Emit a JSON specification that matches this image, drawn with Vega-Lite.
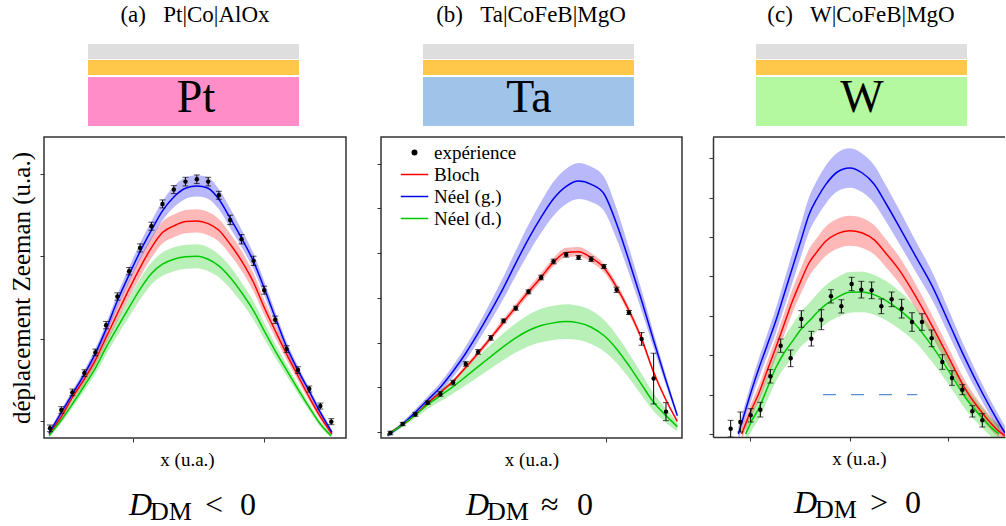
{
"$schema": "https://vega.github.io/schema/vega-lite/v6.json",
"padding": {"left": 8, "top": 0, "right": 0, "bottom": 0},
"background": "white",
"config": {
 "font": "Liberation Serif",
 "view": {"stroke": "#333", "strokeWidth": 1.5},
 "axis": {"labels": false, "grid": false, "domain": false, "tickSize": 4, "tickColor": "#333", "tickWidth": 1, "titleFont": "Liberation Serif", "titleFontWeight": "normal", "titleColor": "black", "titleFontSize": 19, "titlePadding": 8},
 "text": {"font": "Liberation Serif", "color": "black"},
 "legend": {"labelFont": "Liberation Serif"}
},
"datasets": {
 "a_curves": [
  {"s":"Bloch","x":15,"y":12,"e":7},{"s":"Bloch","x":52,"y":64,"e":9},{"s":"Bloch","x":85,"y":122,"e":11},{"s":"Bloch","x":121,"y":177,"e":14},{"s":"Bloch","x":154,"y":234,"e":16},{"s":"Bloch","x":186,"y":302,"e":19},{"s":"Bloch","x":220,"y":374,"e":23},{"s":"Bloch","x":255,"y":447,"e":26},{"s":"Bloch","x":288,"y":512,"e":29},{"s":"Bloch","x":322,"y":572,"e":31},{"s":"Bloch","x":355,"y":617,"e":33},{"s":"Bloch","x":389,"y":637,"e":34},{"s":"Bloch","x":424,"y":650,"e":35},{"s":"Bloch","x":458,"y":652,"e":35},{"s":"Bloch","x":492,"y":644,"e":35},{"s":"Bloch","x":524,"y":624,"e":34},{"s":"Bloch","x":558,"y":582,"e":32},{"s":"Bloch","x":592,"y":532,"e":30},{"s":"Bloch","x":628,"y":467,"e":27},{"s":"Bloch","x":660,"y":392,"e":23},{"s":"Bloch","x":693,"y":322,"e":20},{"s":"Bloch","x":727,"y":252,"e":17},{"s":"Bloch","x":761,"y":187,"e":14},{"s":"Bloch","x":795,"y":122,"e":11},{"s":"Bloch","x":828,"y":64,"e":9},{"s":"Bloch","x":863,"y":12,"e":7},
  {"s":"Néel (g.)","x":15,"y":14,"e":7},{"s":"Néel (g.)","x":52,"y":77,"e":9},{"s":"Néel (g.)","x":85,"y":132,"e":10},{"s":"Néel (g.)","x":121,"y":192,"e":13},{"s":"Néel (g.)","x":154,"y":254,"e":15},{"s":"Néel (g.)","x":186,"y":327,"e":17},{"s":"Néel (g.)","x":220,"y":412,"e":20},{"s":"Néel (g.)","x":255,"y":490,"e":23},{"s":"Néel (g.)","x":288,"y":560,"e":25},{"s":"Néel (g.)","x":322,"y":624,"e":27},{"s":"Néel (g.)","x":355,"y":682,"e":29},{"s":"Néel (g.)","x":389,"y":724,"e":31},{"s":"Néel (g.)","x":424,"y":750,"e":32},{"s":"Néel (g.)","x":458,"y":757,"e":32},{"s":"Néel (g.)","x":492,"y":750,"e":32},{"s":"Néel (g.)","x":524,"y":717,"e":30},{"s":"Néel (g.)","x":558,"y":660,"e":29},{"s":"Néel (g.)","x":592,"y":600,"e":26},{"s":"Néel (g.)","x":628,"y":530,"e":24},{"s":"Néel (g.)","x":660,"y":450,"e":21},{"s":"Néel (g.)","x":693,"y":362,"e":18},{"s":"Néel (g.)","x":727,"y":274,"e":15},{"s":"Néel (g.)","x":761,"y":204,"e":12},{"s":"Néel (g.)","x":795,"y":140,"e":10},{"s":"Néel (g.)","x":828,"y":77,"e":9},{"s":"Néel (g.)","x":863,"y":17,"e":7},
  {"s":"Néel (d.)","x":15,"y":7,"e":6},{"s":"Néel (d.)","x":52,"y":54,"e":9},{"s":"Néel (d.)","x":85,"y":102,"e":12},{"s":"Néel (d.)","x":121,"y":157,"e":15},{"s":"Néel (d.)","x":154,"y":210,"e":18},{"s":"Néel (d.)","x":186,"y":272,"e":21},{"s":"Néel (d.)","x":220,"y":332,"e":24},{"s":"Néel (d.)","x":255,"y":392,"e":28},{"s":"Néel (d.)","x":288,"y":447,"e":31},{"s":"Néel (d.)","x":322,"y":494,"e":33},{"s":"Néel (d.)","x":355,"y":522,"e":35},{"s":"Néel (d.)","x":389,"y":537,"e":36},{"s":"Néel (d.)","x":424,"y":544,"e":36},{"s":"Néel (d.)","x":458,"y":546,"e":36},{"s":"Néel (d.)","x":492,"y":537,"e":36},{"s":"Néel (d.)","x":524,"y":517,"e":34},{"s":"Néel (d.)","x":558,"y":482,"e":33},{"s":"Néel (d.)","x":592,"y":437,"e":30},{"s":"Néel (d.)","x":628,"y":382,"e":27},{"s":"Néel (d.)","x":660,"y":322,"e":24},{"s":"Néel (d.)","x":693,"y":262,"e":20},{"s":"Néel (d.)","x":727,"y":204,"e":17},{"s":"Néel (d.)","x":761,"y":147,"e":14},{"s":"Néel (d.)","x":795,"y":92,"e":11},{"s":"Néel (d.)","x":828,"y":42,"e":8},{"s":"Néel (d.)","x":860,"y":7,"e":6}
 ],
 "a_points": [
  {"x":18,"y":29,"e":10},{"x":52,"y":84,"e":10},{"x":85,"y":137,"e":10},{"x":121,"y":195,"e":10},{"x":154,"y":257,"e":10},{"x":186,"y":339,"e":11},{"x":220,"y":425,"e":11},{"x":255,"y":501,"e":11},{"x":288,"y":571,"e":12},{"x":322,"y":636,"e":12},{"x":355,"y":703,"e":12},{"x":389,"y":746,"e":12},{"x":424,"y":770,"e":13},{"x":458,"y":777,"e":13},{"x":492,"y":770,"e":13},{"x":524,"y":729,"e":12},{"x":558,"y":655,"e":14},{"x":592,"y":597,"e":14},{"x":628,"y":532,"e":14},{"x":660,"y":444,"e":12},{"x":693,"y":355,"e":11},{"x":727,"y":267,"e":10},{"x":761,"y":204,"e":10},{"x":795,"y":147,"e":9},{"x":828,"y":96,"e":9},{"x":861,"y":49,"e":9}
 ],
 "b_curves": [
  {"s":"Bloch","x":20,"y":12,"e":3},{"s":"Bloch","x":65,"y":40,"e":4},{"s":"Bloch","x":103,"y":70,"e":4},{"s":"Bloch","x":140,"y":104,"e":5},{"s":"Bloch","x":178,"y":137,"e":6},{"s":"Bloch","x":216,"y":170,"e":6},{"s":"Bloch","x":254,"y":212,"e":7},{"s":"Bloch","x":291,"y":254,"e":8},{"s":"Bloch","x":329,"y":300,"e":9},{"s":"Bloch","x":367,"y":347,"e":10},{"s":"Bloch","x":404,"y":392,"e":11},{"s":"Bloch","x":442,"y":438,"e":12},{"s":"Bloch","x":480,"y":482,"e":13},{"s":"Bloch","x":517,"y":527,"e":13},{"s":"Bloch","x":555,"y":556,"e":14},{"s":"Bloch","x":592,"y":558,"e":14},{"s":"Bloch","x":630,"y":540,"e":14},{"s":"Bloch","x":668,"y":510,"e":13},{"s":"Bloch","x":706,"y":452,"e":12},{"s":"Bloch","x":743,"y":382,"e":11},{"s":"Bloch","x":781,"y":297,"e":9},{"s":"Bloch","x":817,"y":197,"e":7},{"s":"Bloch","x":854,"y":114,"e":5},{"s":"Bloch","x":888,"y":50,"e":4},
  {"s":"Néel (g.)","x":20,"y":7,"e":4},{"s":"Néel (g.)","x":65,"y":42,"e":7},{"s":"Néel (g.)","x":103,"y":77,"e":9},{"s":"Néel (g.)","x":140,"y":114,"e":11},{"s":"Néel (g.)","x":178,"y":152,"e":14},{"s":"Néel (g.)","x":216,"y":200,"e":17},{"s":"Néel (g.)","x":254,"y":254,"e":21},{"s":"Néel (g.)","x":291,"y":314,"e":24},{"s":"Néel (g.)","x":329,"y":380,"e":29},{"s":"Néel (g.)","x":367,"y":450,"e":33},{"s":"Néel (g.)","x":404,"y":524,"e":38},{"s":"Néel (g.)","x":442,"y":597,"e":43},{"s":"Néel (g.)","x":480,"y":662,"e":47},{"s":"Néel (g.)","x":517,"y":717,"e":51},{"s":"Néel (g.)","x":555,"y":754,"e":53},{"s":"Néel (g.)","x":592,"y":770,"e":54},{"s":"Néel (g.)","x":630,"y":760,"e":53},{"s":"Néel (g.)","x":668,"y":732,"e":51},{"s":"Néel (g.)","x":706,"y":642,"e":46},{"s":"Néel (g.)","x":743,"y":532,"e":38},{"s":"Néel (g.)","x":781,"y":412,"e":31},{"s":"Néel (g.)","x":817,"y":292,"e":23},{"s":"Néel (g.)","x":854,"y":172,"e":15},{"s":"Néel (g.)","x":888,"y":67,"e":8},
  {"s":"Néel (d.)","x":20,"y":10,"e":4},{"s":"Néel (d.)","x":65,"y":40,"e":6},{"s":"Néel (d.)","x":103,"y":69,"e":9},{"s":"Néel (d.)","x":140,"y":100,"e":13},{"s":"Néel (d.)","x":178,"y":127,"e":17},{"s":"Néel (d.)","x":216,"y":154,"e":21},{"s":"Néel (d.)","x":254,"y":184,"e":26},{"s":"Néel (d.)","x":291,"y":214,"e":31},{"s":"Néel (d.)","x":329,"y":244,"e":36},{"s":"Néel (d.)","x":367,"y":274,"e":40},{"s":"Néel (d.)","x":404,"y":300,"e":44},{"s":"Néel (d.)","x":442,"y":322,"e":47},{"s":"Néel (d.)","x":480,"y":337,"e":50},{"s":"Néel (d.)","x":517,"y":345,"e":51},{"s":"Néel (d.)","x":555,"y":349,"e":52},{"s":"Néel (d.)","x":592,"y":345,"e":51},{"s":"Néel (d.)","x":630,"y":332,"e":50},{"s":"Néel (d.)","x":668,"y":307,"e":47},{"s":"Néel (d.)","x":706,"y":267,"e":42},{"s":"Néel (d.)","x":743,"y":217,"e":37},{"s":"Néel (d.)","x":781,"y":160,"e":32},{"s":"Néel (d.)","x":817,"y":107,"e":27},{"s":"Néel (d.)","x":854,"y":67,"e":21},{"s":"Néel (d.)","x":888,"y":34,"e":14}
 ],
 "b_points": [
  {"x":28,"y":15,"e":5},{"x":65,"y":42,"e":5},{"x":103,"y":71,"e":6},{"x":140,"y":106,"e":5},{"x":178,"y":132,"e":7},{"x":216,"y":166,"e":7},{"x":254,"y":222,"e":7},{"x":291,"y":258,"e":7},{"x":329,"y":300,"e":7},{"x":367,"y":351,"e":6},{"x":404,"y":389,"e":6},{"x":442,"y":438,"e":6},{"x":480,"y":481,"e":7},{"x":517,"y":529,"e":7},{"x":555,"y":549,"e":7},{"x":592,"y":541,"e":6},{"x":630,"y":536,"e":7},{"x":668,"y":514,"e":6},{"x":706,"y":444,"e":8},{"x":743,"y":376,"e":6},{"x":781,"y":297,"e":19},{"x":817,"y":178,"e":76},{"x":854,"y":79,"e":27}
 ],
 "c_curves": [
  {"s":"Néel (g.)","x":76,"y":9,"e":20},{"s":"Néel (g.)","x":98,"y":82,"e":24},{"s":"Néel (g.)","x":118,"y":147,"e":27},{"s":"Néel (g.)","x":138,"y":207,"e":30},{"s":"Néel (g.)","x":163,"y":277,"e":33},{"s":"Néel (g.)","x":188,"y":347,"e":37},{"s":"Néel (g.)","x":213,"y":427,"e":41},{"s":"Néel (g.)","x":238,"y":507,"e":45},{"s":"Néel (g.)","x":263,"y":587,"e":48},{"s":"Néel (g.)","x":288,"y":667,"e":52},{"s":"Néel (g.)","x":313,"y":717,"e":55},{"s":"Néel (g.)","x":338,"y":757,"e":57},{"s":"Néel (g.)","x":373,"y":795,"e":58},{"s":"Néel (g.)","x":410,"y":807,"e":59},{"s":"Néel (g.)","x":448,"y":792,"e":58},{"s":"Néel (g.)","x":483,"y":759,"e":57},{"s":"Néel (g.)","x":518,"y":702,"e":54},{"s":"Néel (g.)","x":558,"y":632,"e":51},{"s":"Néel (g.)","x":608,"y":542,"e":46},{"s":"Néel (g.)","x":658,"y":452,"e":42},{"s":"Néel (g.)","x":708,"y":342,"e":37},{"s":"Néel (g.)","x":758,"y":232,"e":31},{"s":"Néel (g.)","x":808,"y":132,"e":26},{"s":"Néel (g.)","x":858,"y":42,"e":22},{"s":"Néel (g.)","x":876,"y":12,"e":21},
  {"s":"Bloch","x":86,"y":9,"e":18},{"s":"Bloch","x":113,"y":77,"e":21},{"s":"Bloch","x":138,"y":132,"e":24},{"s":"Bloch","x":163,"y":200,"e":27},{"s":"Bloch","x":188,"y":267,"e":30},{"s":"Bloch","x":213,"y":337,"e":33},{"s":"Bloch","x":238,"y":407,"e":36},{"s":"Bloch","x":263,"y":467,"e":38},{"s":"Bloch","x":288,"y":522,"e":41},{"s":"Bloch","x":313,"y":557,"e":42},{"s":"Bloch","x":338,"y":587,"e":44},{"s":"Bloch","x":373,"y":610,"e":45},{"s":"Bloch","x":410,"y":619,"e":45},{"s":"Bloch","x":448,"y":612,"e":45},{"s":"Bloch","x":483,"y":592,"e":44},{"s":"Bloch","x":518,"y":552,"e":42},{"s":"Bloch","x":558,"y":502,"e":40},{"s":"Bloch","x":608,"y":422,"e":36},{"s":"Bloch","x":658,"y":332,"e":32},{"s":"Bloch","x":708,"y":237,"e":28},{"s":"Bloch","x":758,"y":142,"e":24},{"s":"Bloch","x":808,"y":72,"e":21},{"s":"Bloch","x":858,"y":17,"e":19},{"s":"Bloch","x":876,"y":4,"e":18},
  {"s":"Néel (d.)","x":98,"y":9,"e":26},{"s":"Néel (d.)","x":118,"y":52,"e":29},{"s":"Néel (d.)","x":138,"y":87,"e":32},{"s":"Néel (d.)","x":163,"y":147,"e":37},{"s":"Néel (d.)","x":188,"y":207,"e":42},{"s":"Néel (d.)","x":213,"y":252,"e":46},{"s":"Néel (d.)","x":238,"y":287,"e":49},{"s":"Néel (d.)","x":263,"y":322,"e":52},{"s":"Néel (d.)","x":288,"y":347,"e":54},{"s":"Néel (d.)","x":313,"y":374,"e":56},{"s":"Néel (d.)","x":338,"y":397,"e":58},{"s":"Néel (d.)","x":373,"y":419,"e":60},{"s":"Néel (d.)","x":410,"y":434,"e":61},{"s":"Néel (d.)","x":448,"y":435,"e":61},{"s":"Néel (d.)","x":483,"y":427,"e":60},{"s":"Néel (d.)","x":518,"y":410,"e":59},{"s":"Néel (d.)","x":558,"y":382,"e":57},{"s":"Néel (d.)","x":608,"y":337,"e":53},{"s":"Néel (d.)","x":658,"y":272,"e":48},{"s":"Néel (d.)","x":708,"y":197,"e":41},{"s":"Néel (d.)","x":758,"y":117,"e":35},{"s":"Néel (d.)","x":808,"y":57,"e":30},{"s":"Néel (d.)","x":838,"y":25,"e":27},{"s":"Néel (d.)","x":858,"y":9,"e":26}
 ],
 "c_points": [
  {"x":53,"y":25,"e":25},{"x":82,"y":45,"e":30},{"x":113,"y":65,"e":20},{"x":142,"y":82,"e":22},{"x":172,"y":182,"e":20},{"x":203,"y":274,"e":20},{"x":233,"y":236,"e":25},{"x":265,"y":354,"e":25},{"x":295,"y":295,"e":22},{"x":325,"y":352,"e":30},{"x":354,"y":422,"e":20},{"x":385,"y":392,"e":20},{"x":416,"y":459,"e":20},{"x":445,"y":442,"e":25},{"x":476,"y":440,"e":25},{"x":505,"y":392,"e":22},{"x":536,"y":413,"e":22},{"x":566,"y":385,"e":28},{"x":597,"y":345,"e":28},{"x":627,"y":345,"e":25},{"x":656,"y":296,"e":25},{"x":688,"y":225,"e":22},{"x":717,"y":177,"e":22},{"x":748,"y":142,"e":15},{"x":778,"y":77,"e":17},{"x":808,"y":50,"e":20}
 ],
 "c_ref": [{"from":330,"to":613,"level":127}]
},
"spacing": 28,
"resolve": {"scale": {"x": "independent", "y": "independent", "color": "independent", "fill": "independent"}, "legend": {"color": "independent", "fill": "independent"}},
"hconcat": [
 {
  "spacing": 6,
  "resolve": {"scale": {"x": "independent", "y": "independent", "color": "independent", "fill": "independent"}, "legend": {"color": "independent", "fill": "independent"}},
  "vconcat": [
   {
    "width": 302, "height": 130, "view": {"stroke": null},
    "layer": [
     {"data": {"values": [{"layer":"AlOx","bottom":71,"top":86},{"layer":"Co","bottom":55,"top":70},{"layer":"Pt","bottom":4,"top":53}]},
      "mark": "rect",
      "encoding": {
       "x": {"datum": 44, "type": "quantitative", "scale": {"domain": [0,302], "nice": false}, "axis": null},
       "x2": {"datum": 255},
       "y": {"field": "bottom", "type": "quantitative", "scale": {"domain": [0,130], "nice": false}, "axis": null},
       "y2": {"field": "top"},
       "fill": {"field": "layer", "type": "nominal", "scale": {"domain": ["AlOx","Co","Pt"], "range": ["#dedede","#ffc84a","#ff8dc8"]}, "legend": null}
      }},
     {"data": {"values": [{}]}, "mark": {"type": "text", "font": "Liberation Serif", "fontSize": 23, "baseline": "alphabetic"},
      "encoding": {"x": {"datum": 151, "type": "quantitative", "axis": null}, "y": {"datum": 108, "type": "quantitative", "axis": null}, "text": {"value": "(a)\u00a0\u00a0\u00a0Pt|Co|AlOx"}}},
     {"data": {"values": [{}]}, "mark": {"type": "text", "font": "Liberation Serif", "fontSize": 46, "baseline": "alphabetic"},
      "encoding": {"x": {"datum": 152, "type": "quantitative", "axis": null}, "y": {"datum": 18, "type": "quantitative", "axis": null}, "text": {"value": "Pt"}}}
    ]
   },
   {
    "width": 302, "height": 301,
    "layer": [
     {"data": {"name": "a_curves"}, "mark": {"type": "errorband", "interpolate": "monotone", "clip": true, "opacity": 0.28},
      "encoding": {
       "x": {"field": "x", "type": "quantitative", "title": "x (u.a.)", "scale": {"domain": [0,905], "nice": false}, "axis": {"values": [268,660], "title": "x (u.a.)", "titleX": 143}},
       "y": {"field": "y", "type": "quantitative", "title": "déplacement Zeeman (u.a.)", "scale": {"domain": [0,904], "nice": false}, "axis": {"values": [52,296,546,792], "title": "déplacement Zeeman (u.a.)", "titleFontSize": 25, "titlePadding": 5}},
       "yError": {"field": "e"},
       "color": {"field": "s", "type": "nominal", "scale": {"domain": ["expérience","Bloch","Néel (g.)","Néel (d.)"], "range": ["black","#ff0000","#0000ee","#00c800"]}, "legend": null}
      }},
     {"data": {"name": "a_curves"}, "mark": {"type": "line", "interpolate": "monotone", "clip": true, "strokeWidth": 1.5},
      "encoding": {"x": {"field": "x", "type": "quantitative", "title": "x (u.a.)"}, "y": {"field": "y", "type": "quantitative", "title": "déplacement Zeeman (u.a.)"}, "color": {"field": "s", "type": "nominal", "legend": null}}},
     {"data": {"name": "a_points"}, "mark": {"type": "errorbar", "ticks": {"size": 6}, "color": "black"},
      "encoding": {"x": {"field": "x", "type": "quantitative", "title": "x (u.a.)"}, "y": {"field": "y", "type": "quantitative", "title": "déplacement Zeeman (u.a.)"}, "yError": {"field": "e"}}},
     {"data": {"name": "a_points"}, "mark": {"type": "point", "filled": true, "size": 20, "color": "black", "opacity": 1},
      "encoding": {"x": {"field": "x", "type": "quantitative", "title": "x (u.a.)"}, "y": {"field": "y", "type": "quantitative", "title": "déplacement Zeeman (u.a.)"}}}
    ]
   },
   {
    "width": 302, "height": 50, "view": {"stroke": null},
    "data": {"values": [{}]},
    "layer": [
     {"mark": {"type": "text", "font": "Liberation Serif", "align": "left", "baseline": "alphabetic", "fontSize": 32, "fontStyle": "italic"},
      "encoding": {"x": {"datum": 85, "type": "quantitative", "scale": {"domain": [0,302], "nice": false}, "axis": null}, "y": {"datum": 12, "type": "quantitative", "scale": {"domain": [0,50], "nice": false}, "axis": null}, "text": {"value": "D"}}},
     {"mark": {"type": "text", "font": "Liberation Serif", "align": "left", "baseline": "alphabetic", "fontSize": 26},
      "encoding": {"x": {"datum": 106, "type": "quantitative", "axis": null}, "y": {"datum": 7, "type": "quantitative", "axis": null}, "text": {"value": "DM"}}},
     {"mark": {"type": "text", "font": "Liberation Serif", "align": "left", "baseline": "alphabetic", "fontSize": 32},
      "encoding": {"x": {"datum": 161, "type": "quantitative", "axis": null}, "y": {"datum": 12, "type": "quantitative", "axis": null}, "text": {"value": "<"}}},
     {"mark": {"type": "text", "font": "Liberation Serif", "align": "left", "baseline": "alphabetic", "fontSize": 32},
      "encoding": {"x": {"datum": 196, "type": "quantitative", "axis": null}, "y": {"datum": 12, "type": "quantitative", "axis": null}, "text": {"value": "0"}}}
    ]
   }
  ]
 },
 {
  "spacing": 25,
  "resolve": {"scale": {"x": "independent", "y": "independent", "color": "independent", "fill": "independent"}, "legend": {"color": "independent", "fill": "independent"}},
  "hconcat": [
 {
  "spacing": 6,
  "resolve": {"scale": {"x": "independent", "y": "independent", "color": "independent", "fill": "independent"}, "legend": {"color": "independent", "fill": "independent"}},
  "vconcat": [
   {
    "width": 301, "height": 130, "view": {"stroke": null},
    "layer": [
     {"data": {"values": [{"layer":"MgO","bottom":71,"top":86},{"layer":"CoFeB","bottom":55,"top":70},{"layer":"Ta","bottom":4,"top":53}]},
      "mark": "rect",
      "encoding": {
       "x": {"datum": 42, "type": "quantitative", "scale": {"domain": [0,301], "nice": false}, "axis": null},
       "x2": {"datum": 253},
       "y": {"field": "bottom", "type": "quantitative", "scale": {"domain": [0,130], "nice": false}, "axis": null},
       "y2": {"field": "top"},
       "fill": {"field": "layer", "type": "nominal", "scale": {"domain": ["MgO","CoFeB","Ta"], "range": ["#dedede","#ffc84a","#a0c3ea"]}, "legend": null}
      }},
     {"data": {"values": [{}]}, "mark": {"type": "text", "font": "Liberation Serif", "fontSize": 23, "baseline": "alphabetic"},
      "encoding": {"x": {"datum": 150, "type": "quantitative", "axis": null}, "y": {"datum": 108, "type": "quantitative", "axis": null}, "text": {"value": "(b)\u00a0\u00a0\u00a0Ta|CoFeB|MgO"}}},
     {"data": {"values": [{}]}, "mark": {"type": "text", "font": "Liberation Serif", "fontSize": 46, "baseline": "alphabetic"},
      "encoding": {"x": {"datum": 148, "type": "quantitative", "axis": null}, "y": {"datum": 18, "type": "quantitative", "axis": null}, "text": {"value": "Ta"}}}
    ]
   },
   {
    "width": 301, "height": 301,
    "layer": [
     {"data": {"name": "b_curves"}, "mark": {"type": "errorband", "interpolate": "monotone", "clip": true, "opacity": 0.28},
      "encoding": {
       "x": {"field": "x", "type": "quantitative", "title": "x (u.a.)", "scale": {"domain": [0,902], "nice": false}, "axis": {"values": [675], "title": "x (u.a.)"}},
       "y": {"field": "y", "type": "quantitative", "title": null, "scale": {"domain": [0,902], "nice": false}, "axis": {"values": [19,154,285,419,554,689,822], "title": null}},
       "yError": {"field": "e"},
       "color": {"field": "s", "type": "nominal", "scale": {"domain": ["expérience","Bloch","Néel (g.)","Néel (d.)"], "range": ["black","#ff0000","#0000ee","#00c800"]}}
      }},
     {"data": {"name": "b_curves"}, "mark": {"type": "line", "interpolate": "monotone", "clip": true, "strokeWidth": 1.5},
      "encoding": {"x": {"field": "x", "type": "quantitative", "title": "x (u.a.)"}, "y": {"field": "y", "type": "quantitative", "title": null},
       "color": {"field": "s", "type": "nominal", "legend": {"orient": "none", "legendX": 24, "legendY": 6, "title": null, "labelFont": "Liberation Serif", "labelFontSize": 19, "labelColor": "black", "labelOffset": 10, "symbolSize": 121, "symbolStrokeWidth": 1.5, "symbolType": "M-2.5,0H2.5", "rowPadding": 2, "padding": 0,
        "encode": {"symbols": {"update": {"shape": {"signal": "datum.value === 'expérience' ? 'circle' : 'M-2.5,0H2.5'"}, "size": {"signal": "datum.value === 'expérience' ? 20 : 121"}, "fill": {"signal": "datum.value === 'expérience' ? 'black' : 'transparent'"}, "opacity": {"value": 1}}}}}}}},
     {"data": {"name": "b_points"}, "mark": {"type": "errorbar", "ticks": {"size": 6}, "color": "black"},
      "encoding": {"x": {"field": "x", "type": "quantitative", "title": "x (u.a.)"}, "y": {"field": "y", "type": "quantitative", "title": null}, "yError": {"field": "e"}}},
     {"data": {"name": "b_points"}, "mark": {"type": "point", "filled": true, "size": 20, "opacity": 1},
      "encoding": {"x": {"field": "x", "type": "quantitative", "title": "x (u.a.)"}, "y": {"field": "y", "type": "quantitative", "title": null}, "color": {"datum": "expérience"}}}
    ]
   },
   {
    "width": 301, "height": 50, "view": {"stroke": null},
    "data": {"values": [{}]},
    "layer": [
     {"mark": {"type": "text", "font": "Liberation Serif", "align": "left", "baseline": "alphabetic", "fontSize": 32, "fontStyle": "italic"},
      "encoding": {"x": {"datum": 85, "type": "quantitative", "scale": {"domain": [0,301], "nice": false}, "axis": null}, "y": {"datum": 12, "type": "quantitative", "scale": {"domain": [0,50], "nice": false}, "axis": null}, "text": {"value": "D"}}},
     {"mark": {"type": "text", "font": "Liberation Serif", "align": "left", "baseline": "alphabetic", "fontSize": 26},
      "encoding": {"x": {"datum": 106, "type": "quantitative", "axis": null}, "y": {"datum": 7, "type": "quantitative", "axis": null}, "text": {"value": "DM"}}},
     {"mark": {"type": "text", "font": "Liberation Serif", "align": "left", "baseline": "alphabetic", "fontSize": 32},
      "encoding": {"x": {"datum": 160, "type": "quantitative", "axis": null}, "y": {"datum": 12, "type": "quantitative", "axis": null}, "text": {"value": "≈"}}},
     {"mark": {"type": "text", "font": "Liberation Serif", "align": "left", "baseline": "alphabetic", "fontSize": 32},
      "encoding": {"x": {"datum": 196, "type": "quantitative", "axis": null}, "y": {"datum": 12, "type": "quantitative", "axis": null}, "text": {"value": "0"}}}
    ]
   }
  ]
 },
 {
  "spacing": 6,
  "resolve": {"scale": {"x": "independent", "y": "independent", "color": "independent", "fill": "independent"}, "legend": {"color": "independent", "fill": "independent"}},
  "vconcat": [
   {
    "width": 292, "height": 130, "view": {"stroke": null},
    "layer": [
     {"data": {"values": [{"layer":"MgO","bottom":71,"top":86},{"layer":"CoFeB","bottom":55,"top":70},{"layer":"W","bottom":4,"top":53}]},
      "mark": "rect",
      "encoding": {
       "x": {"datum": 43, "type": "quantitative", "scale": {"domain": [0,292], "nice": false}, "axis": null},
       "x2": {"datum": 254},
       "y": {"field": "bottom", "type": "quantitative", "scale": {"domain": [0,130], "nice": false}, "axis": null},
       "y2": {"field": "top"},
       "fill": {"field": "layer", "type": "nominal", "scale": {"domain": ["MgO","CoFeB","W"], "range": ["#dedede","#ffc84a","#b4f9a0"]}, "legend": null}
      }},
     {"data": {"values": [{}]}, "mark": {"type": "text", "font": "Liberation Serif", "fontSize": 23, "baseline": "alphabetic"},
      "encoding": {"x": {"datum": 148, "type": "quantitative", "axis": null}, "y": {"datum": 108, "type": "quantitative", "axis": null}, "text": {"value": "(c)\u00a0\u00a0\u00a0W|CoFeB|MgO"}}},
     {"data": {"values": [{}]}, "mark": {"type": "text", "font": "Liberation Serif", "fontSize": 46, "baseline": "alphabetic"},
      "encoding": {"x": {"datum": 149, "type": "quantitative", "axis": null}, "y": {"datum": 18, "type": "quantitative", "axis": null}, "text": {"value": "W"}}}
    ]
   },
   {
    "width": 292, "height": 300, "view": {"stroke": null},
    "layer": [
     {"data": {"name": "c_curves"}, "mark": {"type": "errorband", "interpolate": "monotone", "clip": true, "opacity": 0.28},
      "encoding": {
       "x": {"field": "x", "type": "quantitative", "title": "x (u.a.)", "scale": {"domain": [0,876], "nice": false}, "axis": {"values": [110,410,706], "title": "x (u.a.)", "domain": true, "domainColor": "#333", "domainWidth": 1.5}},
       "y": {"field": "y", "type": "quantitative", "title": null, "scale": {"domain": [0,900], "nice": false}, "axis": {"values": [10,127,245,364,482,600,717,837], "title": null, "domain": true, "domainColor": "#333", "domainWidth": 1.5}},
       "yError": {"field": "e"},
       "color": {"field": "s", "type": "nominal", "scale": {"domain": ["expérience","Bloch","Néel (g.)","Néel (d.)"], "range": ["black","#ff0000","#0000ee","#00c800"]}, "legend": null}
      }},
     {"data": {"name": "c_curves"}, "mark": {"type": "line", "interpolate": "monotone", "clip": true, "strokeWidth": 1.5},
      "encoding": {"x": {"field": "x", "type": "quantitative", "title": "x (u.a.)"}, "y": {"field": "y", "type": "quantitative", "title": null}, "color": {"field": "s", "type": "nominal", "legend": null}}},
     {"data": {"name": "c_ref"}, "mark": {"type": "rule", "color": "#5b8fd4", "strokeWidth": 1.2, "strokeDash": [13,15]},
      "encoding": {"x": {"field": "from", "type": "quantitative", "title": "x (u.a.)"}, "x2": {"field": "to"}, "y": {"field": "level", "type": "quantitative", "title": null}}},
     {"data": {"name": "c_points"}, "mark": {"type": "errorbar", "ticks": {"size": 6}, "color": "black", "clip": true},
      "encoding": {"x": {"field": "x", "type": "quantitative", "title": "x (u.a.)"}, "y": {"field": "y", "type": "quantitative", "title": null}, "yError": {"field": "e"}}},
     {"data": {"name": "c_points"}, "mark": {"type": "point", "filled": true, "size": 20, "color": "black", "opacity": 1},
      "encoding": {"x": {"field": "x", "type": "quantitative", "title": "x (u.a.)"}, "y": {"field": "y", "type": "quantitative", "title": null}}},
     {"data": {"values": [{}]}, "mark": {"type": "rule", "color": "#333", "strokeWidth": 1.5},
      "encoding": {"y": {"datum": 900, "type": "quantitative", "title": null}}}
    ]
   },
   {
    "width": 292, "height": 50, "view": {"stroke": null},
    "data": {"values": [{}]},
    "layer": [
     {"mark": {"type": "text", "font": "Liberation Serif", "align": "left", "baseline": "alphabetic", "fontSize": 32, "fontStyle": "italic"},
      "encoding": {"x": {"datum": 81, "type": "quantitative", "scale": {"domain": [0,292], "nice": false}, "axis": null}, "y": {"datum": 12, "type": "quantitative", "scale": {"domain": [0,50], "nice": false}, "axis": null}, "text": {"value": "D"}}},
     {"mark": {"type": "text", "font": "Liberation Serif", "align": "left", "baseline": "alphabetic", "fontSize": 26},
      "encoding": {"x": {"datum": 102, "type": "quantitative", "axis": null}, "y": {"datum": 7, "type": "quantitative", "axis": null}, "text": {"value": "DM"}}},
     {"mark": {"type": "text", "font": "Liberation Serif", "align": "left", "baseline": "alphabetic", "fontSize": 32},
      "encoding": {"x": {"datum": 157, "type": "quantitative", "axis": null}, "y": {"datum": 12, "type": "quantitative", "axis": null}, "text": {"value": ">"}}},
     {"mark": {"type": "text", "font": "Liberation Serif", "align": "left", "baseline": "alphabetic", "fontSize": 32},
      "encoding": {"x": {"datum": 192, "type": "quantitative", "axis": null}, "y": {"datum": 12, "type": "quantitative", "axis": null}, "text": {"value": "0"}}}
    ]
   }
  ]
 }
  ]
 }
]
}
